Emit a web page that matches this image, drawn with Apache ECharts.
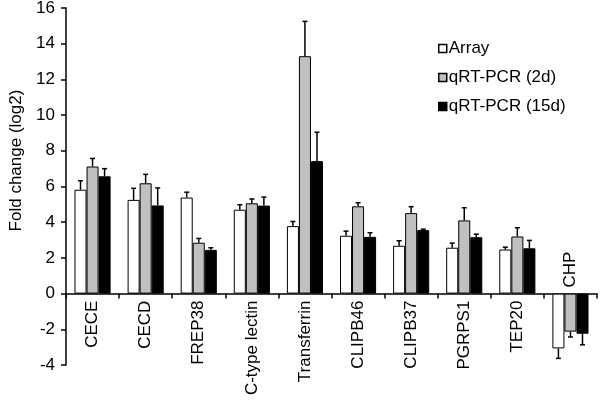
<!DOCTYPE html>
<html>
<head>
<meta charset="utf-8">
<script src="https://cdn.jsdelivr.net/npm/echarts@6/dist/echarts.min.js"></script>
<style>
  html, body { margin: 0; padding: 0; background: #fff; }
  #chart { width: 600px; height: 400px; }
</style>
</head>
<body>
<div id="chart"></div>
<script>
var categories = ['CECE', 'CECD', 'FREP38', 'C-type lectin', 'Transferrin', 'CLIPB46', 'CLIPB37', 'PGRPS1', 'TEP20', 'CHP'];
var seriesNames = ['Array', 'qRT-PCR (2d)', 'qRT-PCR (15d)'];

var arrayVals = [5.82, 5.25, 5.38, 4.70, 3.78, 3.24, 2.68, 2.57, 2.47, -3.07];
var arrayErr  = [0.50, 0.65, 0.30, 0.28, 0.26, 0.26, 0.28, 0.26, 0.13, 0.56];
var qpcr2Vals = [7.12, 6.18, 2.85, 5.06, 13.30, 4.89, 4.51, 4.10, 3.20, -2.13];
var qpcr2Err  = [0.45, 0.50, 0.24, 0.24, 1.95, 0.20, 0.36, 0.71, 0.49, 0.30];
var qpcr15Vals = [6.57, 4.94, 2.45, 4.93, 7.42, 3.18, 3.56, 3.16, 2.54, -2.25];
var qpcr15Err  = [0.43, 0.98, 0.12, 0.48, 1.62, 0.23, 0.05, 0.17, 0.44, 0.62];

var yTicks = { min: -4, max: 16, interval: 2 };

var font = "'Liberation Sans', Arial, Helvetica, sans-serif";
var colors = ['#ffffff', '#c0c0c0', '#000000'];
var groupFrac = 0.68; // 1 - barCategoryGap

var chart = echarts.init(document.getElementById('chart'));

function errSeries(vals, errs, idx) {
    return {
        type: 'custom',
        silent: true,
        z: 5,
        data: vals.map(function (v, i) { return [i, v, errs[i]]; }),
        renderItem: function (params, api) {
            var i = api.value(0), v = api.value(1), e = api.value(2);
            var band = api.size([1, 0])[0];
            var bw = band * groupFrac / 3;
            var off = (idx - 1) * bw;
            var p0 = api.coord([i, v]);
            var p1 = api.coord([i, v >= 0 ? v + e : v - e]);
            var x = p0[0] + off;
            var st = { stroke: '#000', lineWidth: 1.5 };
            return {
                type: 'group',
                children: [
                    { type: 'line', shape: { x1: x, y1: p0[1], x2: x, y2: p1[1] }, style: st },
                    { type: 'line', shape: { x1: x - 2.5, y1: p1[1], x2: x + 2.5, y2: p1[1] }, style: st }
                ]
            };
        }
    };
}

function barSeries(name, vals, idx) {
    return {
        name: name,
        type: 'bar',
        data: vals,
        barGap: '0%',
        barCategoryGap: '32%',
        itemStyle: { color: colors[idx], borderColor: '#000', borderWidth: 1 }
    };
}

var option = {
    animation: false,
    textStyle: { fontFamily: font },
    grid: { left: 66, right: 3, top: 8, bottom: 35, containLabel: false, outerBoundsMode: 'none' },
    legend: {
        orient: 'vertical',
        left: 433,
        top: 35,
        itemWidth: 8,
        itemHeight: 8,
        itemGap: 12,
        icon: 'rect',
        itemStyle: { borderColor: '#000', borderWidth: 1.5 },
        textStyle: { fontSize: 17, color: '#000', fontFamily: font, padding: [0, 0, 0, -3] },
        data: seriesNames
    },
    xAxis: {
        type: 'category',
        data: categories,
        axisLine: { onZero: false, lineStyle: { color: '#000', width: 1.5 } },
        axisTick: { show: true, length: 5, lineStyle: { color: '#000', width: 1.5 } },
        axisLabel: {
            rotate: 90,
            interval: 0,
            margin: 7,
            fontSize: 17,
            color: '#000',
            fontFamily: font,
            formatter: function (v) { return v === 'CHP' ? '' : v; }
        },
        splitLine: { show: false }
    },
    yAxis: {
        type: 'value',
        min: yTicks.min,
        max: yTicks.max,
        interval: yTicks.interval,
        name: 'Fold change (log2)',
        nameLocation: 'middle',
        nameGap: 37,
        nameTextStyle: { fontSize: 17, color: '#000', fontFamily: font, padding: [0, 0, 0, 52] },
        axisLine: { show: true, lineStyle: { color: '#000', width: 1.5 } },
        axisTick: { show: true, length: 5, lineStyle: { color: '#000', width: 1.5 } },
        axisLabel: { fontSize: 17, color: '#000', fontFamily: font, margin: 11 },
        splitLine: { show: false }
    },
    series: [
        barSeries(seriesNames[0], arrayVals, 0),
        barSeries(seriesNames[1], qpcr2Vals, 1),
        barSeries(seriesNames[2], qpcr15Vals, 2),
        errSeries(arrayVals, arrayErr, 0),
        errSeries(qpcr2Vals, qpcr2Err, 1),
        errSeries(qpcr15Vals, qpcr15Err, 2),
        {
            // CHP label sits above the axis since its bars point down
            type: 'custom',
            silent: true,
            data: [[categories.indexOf('CHP'), 0]],
            renderItem: function (params, api) {
                var p = api.coord([api.value(0), api.value(1)]);
                return {
                    type: 'text',
                    x: p[0],
                    y: p[1] - 6,
                    rotation: Math.PI / 2,
                    style: {
                        text: 'CHP',
                        fontSize: 17,
                        fontFamily: font,
                        fill: '#000',
                        align: 'left',
                        verticalAlign: 'middle'
                    }
                };
            }
        }
    ]
};

chart.setOption(option);

// move the category axis (line, ticks, labels) up to y = 0
var zeroY = chart.convertToPixel({ yAxisIndex: 0 }, 0);
var bottomY = chart.convertToPixel({ yAxisIndex: 0 }, yTicks.min);
chart.setOption({ xAxis: { offset: zeroY - bottomY } });
</script>
</body>
</html>
